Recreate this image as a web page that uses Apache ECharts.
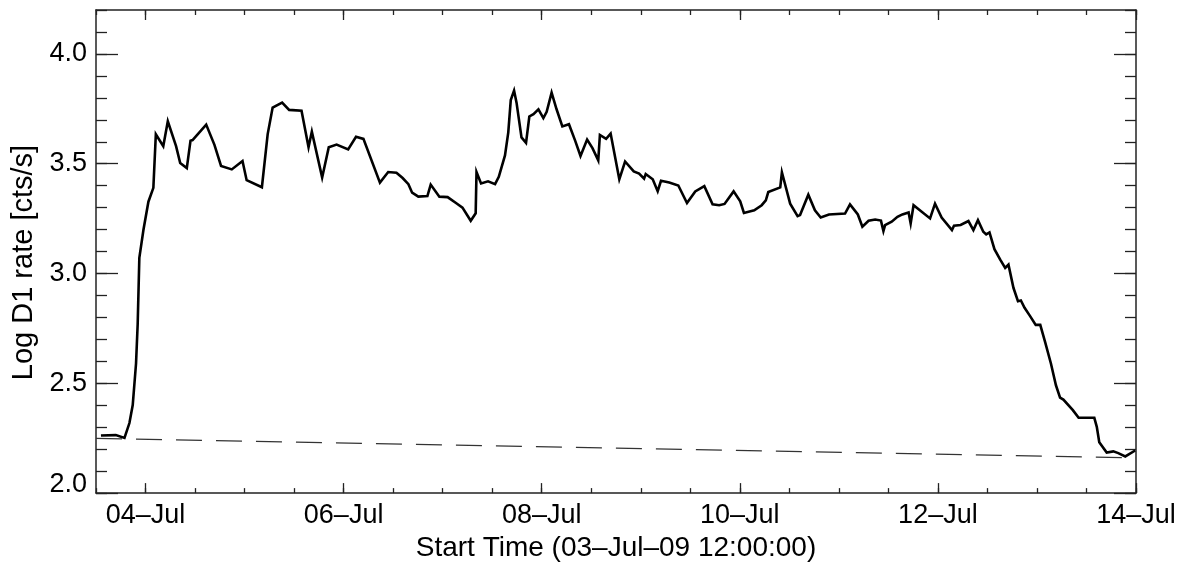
<!DOCTYPE html>
<html><head><meta charset="utf-8">
<script src="https://cdn.jsdelivr.net/npm/echarts@6/dist/echarts.min.js"></script>
<style>html,body{margin:0;padding:0;background:#fff}#c{width:1183px;height:567px}</style>
</head><body><div id="c"></div>
<script>
// hours since 03-Jul-09 12:00:00
const hours = [1.2,4.8,6.9,8.1,8.9,9.7,10.1,10.5,11.5,12.7,13.9,14.5,16.3,17.4,19.4,20.4,22.0,22.9,23.4,26.7,28.7,30.3,32.9,35.5,36.5,40.2,41.6,42.8,45.1,46.8,49.8,51.5,52.3,54.8,56.4,58.3,61.1,63.0,64.8,
68.8,70.8,72.8,74.3,75.7,76.6,78.1,80.3,81.1,83.2,85.2,87.4,88.8,90.8,92.0,92.2,93.3,95.0,96.7,97.6,99.1,99.9,100.5,101.3,101.9,103.1,104.2,105.0,106.0,107.2,108.4,109.2,110.4,111.6,113.0,114.6,116.1,117.4,119.0,120.3,121.7,122.1,123.6,124.7,126.8,128.2,130.3,131.6,132.8,133.2,134.9,136.1,136.9,138.9,
141.1,143.2,145.2,147.4,149.4,151.0,152.3,154.5,156.1,157.0,159.5,161.3,162.3,162.9,165.8,166.2,168.2,170.0,170.6,172.6,174.2,175.6,177.6,181.5,182.7,184.6,185.7,187.2,188.8,190.2,190.8,191.2,192.8,194.2,195.4,196.9,197.4,198.1,202.1,203.3,
204.9,207.4,207.9,209.5,211.4,212.6,213.7,215.0,215.7,216.5,217.7,219.1,220.3,221.1,222.3,223.4,224.1,225.0,226.3,227.7,228.8,230.0,231.4,232.6,233.6,234.4,236.7,238.1,241.9,242.5,243.1,244.9,246.5,247.7,249.4,251.8];
const rate = [2.262,2.264,2.251,2.319,2.401,2.590,2.770,3.071,3.199,3.327,3.390,3.634,3.580,3.693,3.580,3.503,3.480,3.605,3.608,3.678,3.586,3.490,3.474,3.512,3.425,3.393,3.635,3.756,3.778,3.745,3.741,3.575,3.646,3.437,3.575,3.587,3.565,3.623,3.613,
3.414,3.462,3.459,3.435,3.407,3.368,3.350,3.353,3.405,3.350,3.348,3.319,3.300,3.240,3.274,3.462,3.410,3.420,3.407,3.440,3.538,3.643,3.790,3.833,3.778,3.620,3.595,3.715,3.726,3.748,3.708,3.736,3.824,3.748,3.670,3.680,3.605,3.535,3.610,3.571,3.515,3.631,3.613,3.637,3.429,3.510,3.465,3.455,3.432,3.453,3.429,3.375,3.422,3.414,
3.401,3.321,3.374,3.398,3.315,3.311,3.317,3.374,3.329,3.276,3.288,3.311,3.333,3.371,3.392,3.461,3.318,3.261,3.266,3.359,3.288,3.255,3.269,3.273,3.315,3.269,3.213,3.240,3.246,3.241,3.193,3.220,3.236,3.258,3.269,3.278,3.228,3.311,3.251,3.318,
3.255,3.198,3.218,3.221,3.239,3.198,3.243,3.190,3.178,3.187,3.111,3.063,3.025,3.040,2.935,2.874,2.877,2.844,2.807,2.766,2.766,2.686,2.589,2.491,2.435,2.426,2.378,2.343,2.343,2.302,2.232,2.185,2.190,2.182,2.167,2.194];
const trendHours = [0, 252];
const trendRate = [2.249, 2.160];
const xTickHours = [12, 60, 108, 156, 204, 252];
const xTickLabels = ['04–Jul', '06–Jul', '08–Jul', '10–Jul', '12–Jul', '14–Jul'];
const yTickValues = [2.0, 2.5, 3.0, 3.5, 4.0];
const yTickLabels = ['2.0', '2.5', '3.0', '3.5', '4.0'];
const xTitle = 'Start Time (03–Jul–09 12:00:00)';
const yTitle = 'Log D1 rate [cts/s]';

const FONT = '"Liberation Sans", Helvetica, Arial, sans-serif';
const LINE = { color: '#222', width: 1.5 };
const TICK = { color: '#222', width: 1.3 };
const X0 = 0, X1 = 252, Y0 = 2.0, Y1 = 4.2;

function idx(arr, v) { for (let i = 0; i < arr.length; i++) if (Math.abs(arr[i] - v) < 1e-6) return i; return -1; }

function xAxisMajor(pos, labels) {
  return {
    type: 'value', position: pos, min: X0, max: X1, gridIndex: 0,
    axisLine: { show: true, onZero: false, lineStyle: LINE },
    axisTick: { show: true, inside: true, length: 10, customValues: xTickHours, lineStyle: TICK },
    axisLabel: labels ? { show: true, customValues: xTickHours, margin: 9, color: '#000', fontSize: 27, fontFamily: FONT,
      formatter: v => xTickLabels[idx(xTickHours, v)] } : { show: false },
    splitLine: { show: false },
    name: labels ? xTitle : '', nameLocation: 'middle', nameGap: 37,
    nameTextStyle: { color: '#000', fontSize: 28, fontFamily: FONT }
  };
}
function xAxisMinor(pos) {
  return {
    type: 'value', position: pos, min: X0, max: X1, interval: 12, gridIndex: 0,
    axisLine: { show: false, onZero: false },
    axisTick: { show: true, inside: true, length: 5, lineStyle: TICK },
    axisLabel: { show: false }, splitLine: { show: false }
  };
}
function yAxisMajor(pos, labels) {
  return {
    type: 'value', position: pos, min: Y0, max: Y1, gridIndex: 0,
    axisLine: { show: true, onZero: false, lineStyle: LINE },
    axisTick: { show: true, inside: true, length: 22, customValues: yTickValues, lineStyle: TICK },
    axisLabel: labels ? { show: true, customValues: yTickValues, margin: 9, color: '#000', fontSize: 27, fontFamily: FONT,
      formatter: v => { const s = yTickLabels[idx(yTickValues, v)]; return Math.abs(v - Y0) < 1e-6 ? '{lo|' + s + '}' : s; },
      rich: { lo: { color: '#000', fontSize: 27, fontFamily: FONT, padding: [0, 0, 18, 0] } } } : { show: false },
    splitLine: { show: false },
    name: labels ? yTitle : '', nameLocation: 'middle', nameGap: 57, nameRotate: 90,
    nameTextStyle: { color: '#000', fontSize: 29, fontFamily: FONT, padding: [0, 22, 0, 0] }
  };
}
function yAxisMinor(pos) {
  return {
    type: 'value', position: pos, min: Y0, max: Y1, interval: 0.1, gridIndex: 0,
    axisLine: { show: false, onZero: false },
    axisTick: { show: true, inside: true, length: 11, lineStyle: TICK },
    axisLabel: { show: false }, splitLine: { show: false }
  };
}

const chart = echarts.init(document.getElementById('c'), null, { renderer: 'canvas' });
chart.setOption({
  animation: false,
  backgroundColor: '#fff',
  grid: { left: 96, right: 47, top: 10, bottom: 70, containLabel: false },
  xAxis: [xAxisMajor('bottom', true), xAxisMinor('bottom'), xAxisMajor('top', false), xAxisMinor('top')],
  yAxis: [yAxisMajor('left', true), yAxisMinor('left'), yAxisMajor('right', false), yAxisMinor('right')],
  series: [
    { type: 'line', xAxisIndex: 0, yAxisIndex: 0, showSymbol: false, symbol: 'none',
      data: trendHours.map((h, i) => [h, trendRate[i]]),
      lineStyle: { color: '#333', width: 1.2, type: [26, 14] }, z: 2 },
    { type: 'line', xAxisIndex: 0, yAxisIndex: 0, showSymbol: false, symbol: 'none',
      data: hours.map((h, i) => [h, rate[i]]),
      lineStyle: { color: '#000', width: 2.6, join: 'miter' }, z: 3 }
  ]
});
</script></body></html>
